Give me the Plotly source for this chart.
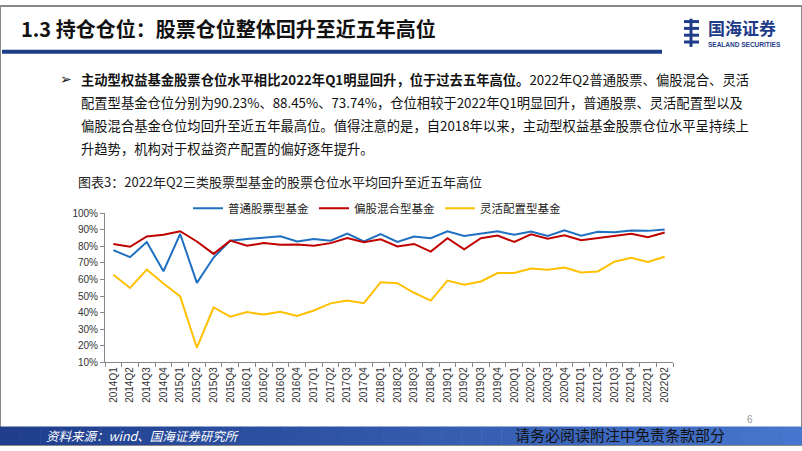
import plotly.graph_objects as go

W, H = 802, 451

quarters = [f"{y}Q{q}" for y in range(2014, 2023) for q in range(1, 5)][:34]

ordinary_stock = [77.8, 73.5, 82.7, 65.0,
                  87.5, 58.0, 73.3, 83.5,
                  84.5, 85.5, 86.2, 83.0,
                  84.5, 83.5, 87.8, 83.0,
                  87.5, 82.7, 86.0, 85.0,
                  89.2, 86.3, 87.8, 89.2,
                  87.0, 89.0, 86.3, 89.8,
                  86.5, 88.8, 88.6, 89.6,
                  89.4, 90.23]

mixed_stock = [81.4, 79.8, 86.0, 87.0,
               89.2, 83.0, 75.5, 83.5,
               80.4, 82.0, 81.0, 81.2,
               80.4, 82.0, 85.0, 82.5,
               84.3, 80.0, 81.5, 76.9,
               85.0, 78.3, 85.0, 86.6,
               82.7, 87.3, 84.7, 86.8,
               83.7, 85.0, 86.0, 87.6,
               85.5, 88.45]

flexible = [62.9, 54.9, 66.0, 57.6,
            49.8, 18.8, 43.1, 37.6,
            40.3, 38.8, 40.5, 38.0,
            41.3, 45.6, 47.3, 45.7,
            58.4, 57.8, 52.0, 47.3,
            59.4, 56.8, 58.8, 63.9,
            63.9, 66.7, 65.9, 67.3,
            64.3, 64.9, 70.8, 73.1,
            70.6, 73.74]

series_names = ["普通股票型基金", "偏股混合型基金", "灵活配置型基金"]
series_colors = ["#1F70C1", "#C00000", "#FFC000"]

CJK = "Noto Sans CJK SC"


def px(x):
    return x / W


def py(y):
    return 1 - y / H


fig = go.Figure()
for name, vals, col in zip(series_names, [ordinary_stock, mixed_stock, flexible], series_colors):
    fig.add_trace(go.Scatter(x=quarters, y=vals, name=name, mode="lines",
                             line=dict(color=col, width=2)))

shapes = []
annotations = []

# slide frame
shapes.append(dict(type="rect", xref="paper", yref="paper", x0=0, x1=1, y0=0, y1=1,
                   line=dict(color="#8a8a8a", width=2), layer="below"))

# title underline bar
shapes.append(dict(type="rect", xref="paper", yref="paper", x0=px(2), x1=px(662),
                   y0=py(49), y1=py(45), line=dict(width=0), fillcolor="#1F3C88"))

# footer gradient bar
N = 40
c0 = (32, 62, 140)
c1 = (70, 118, 205)
for i in range(N):
    t = i / (N - 1)
    c = tuple(int(c0[k] + (c1[k] - c0[k]) * t) for k in range(3))
    shapes.append(dict(type="rect", xref="paper", yref="paper",
                       x0=px(W * i / N), x1=px(W * (i + 1) / N + 0.5),
                       y0=0, y1=py(432), line=dict(width=0),
                       fillcolor=f"rgb{c}"))

# logo icon (simple stylised glyph)
for yy in (16, 23, 30, 37):
    shapes.append(dict(type="line", xref="paper", yref="paper",
                       x0=px(684), x1=px(699), y0=py(yy), y1=py(yy),
                       line=dict(color="#1F3C88", width=3)))
shapes.append(dict(type="line", xref="paper", yref="paper",
                   x0=px(691), x1=px(691), y0=py(13), y1=py(42),
                   line=dict(color="#1F3C88", width=3)))


def note(text, x, y, size, color, family=CJK, xanchor="left"):
    return dict(text=text, x=px(x), y=py(y), xref="paper", yref="paper",
                xanchor=xanchor, yanchor="middle", showarrow=False,
                font=dict(family=family, size=size, color=color))


annotations += [
    note("<b>1.3 持仓仓位：股票仓位整体回升至近五年高位</b>", 19, 23, 20, "#111111"),
    note("<b>国海证券</b>", 706, 22, 17, "#1F3C88"),
    note("<b>SEALAND SECURITIES</b>", 706, 40, 6.5, "#1F3C88", family="Liberation Sans"),
    note("➢", 58, 75, 14, "#222222", family="DejaVu Sans"),
]

body_lines = [
    "<b>主动型权益基金股票仓位水平相比2022年Q1明显回升，位于过去五年高位。</b>2022年Q2普通股票、偏股混合、灵活",
    "配置型基金仓位分别为90.23%、88.45%、73.74%，仓位相较于2022年Q1明显回升，普通股票、灵活配置型以及",
    "偏股混合基金仓位均回升至近五年最高位。值得注意的是，自2018年以来，主动型权益基金股票仓位水平呈持续上",
    "升趋势，机构对于权益资产配置的偏好逐年提升。",
]
for i, line in enumerate(body_lines):
    annotations.append(note(line, 79, 75 + 23.7 * i, 13.3, "#111111"))

annotations += [
    note("图表3：2022年Q2三类股票型基金的股票仓位水平均回升至近五年高位", 76, 180, 13, "#222222"),
    note("6", 750, 425, 10, "#999999", family="Liberation Sans", xanchor="center"),
    note("<i>资料来源：wind、国海证券研究所</i>", 44, 441, 12.5, "#FFFFFF"),
    note("请务必阅读附注中免责条款部分", 513, 440, 15, "#111111"),
]

fig.update_layout(
    width=W, height=H,
    margin=dict(l=0, r=0, t=0, b=0),
    paper_bgcolor="white", plot_bgcolor="white",
    shapes=shapes, annotations=annotations,
    showlegend=True,
    legend=dict(orientation="h", x=px(188), y=py(193), xanchor="left", yanchor="top",
                font=dict(family=CJK, size=11.5, color="#222222"),
                bgcolor="rgba(0,0,0,0)", itemwidth=30),
    xaxis=dict(domain=[px(105), px(673)], type="category", range=[-0.5, 33.5],
               tickangle=-90, tickson="boundaries", ticks="outside", ticklen=4,
               tickcolor="#888888", showline=True, linecolor="#888888", linewidth=1,
               showgrid=False, zeroline=False,
               tickfont=dict(family="Liberation Sans", size=10, color="#333333")),
    yaxis=dict(domain=[py(366), py(213)], range=[10, 100], dtick=10, ticksuffix="%",
               ticks="outside", ticklen=4, tickcolor="#888888", showline=True,
               linecolor="#888888", linewidth=1, showgrid=False, zeroline=False,
               tickfont=dict(family="Liberation Sans", size=10, color="#333333")),
)

fig.write_html("out.html", config={"displayModeBar": False},
               post_script="document.body.style.margin='0';document.body.style.overflow='hidden';")
